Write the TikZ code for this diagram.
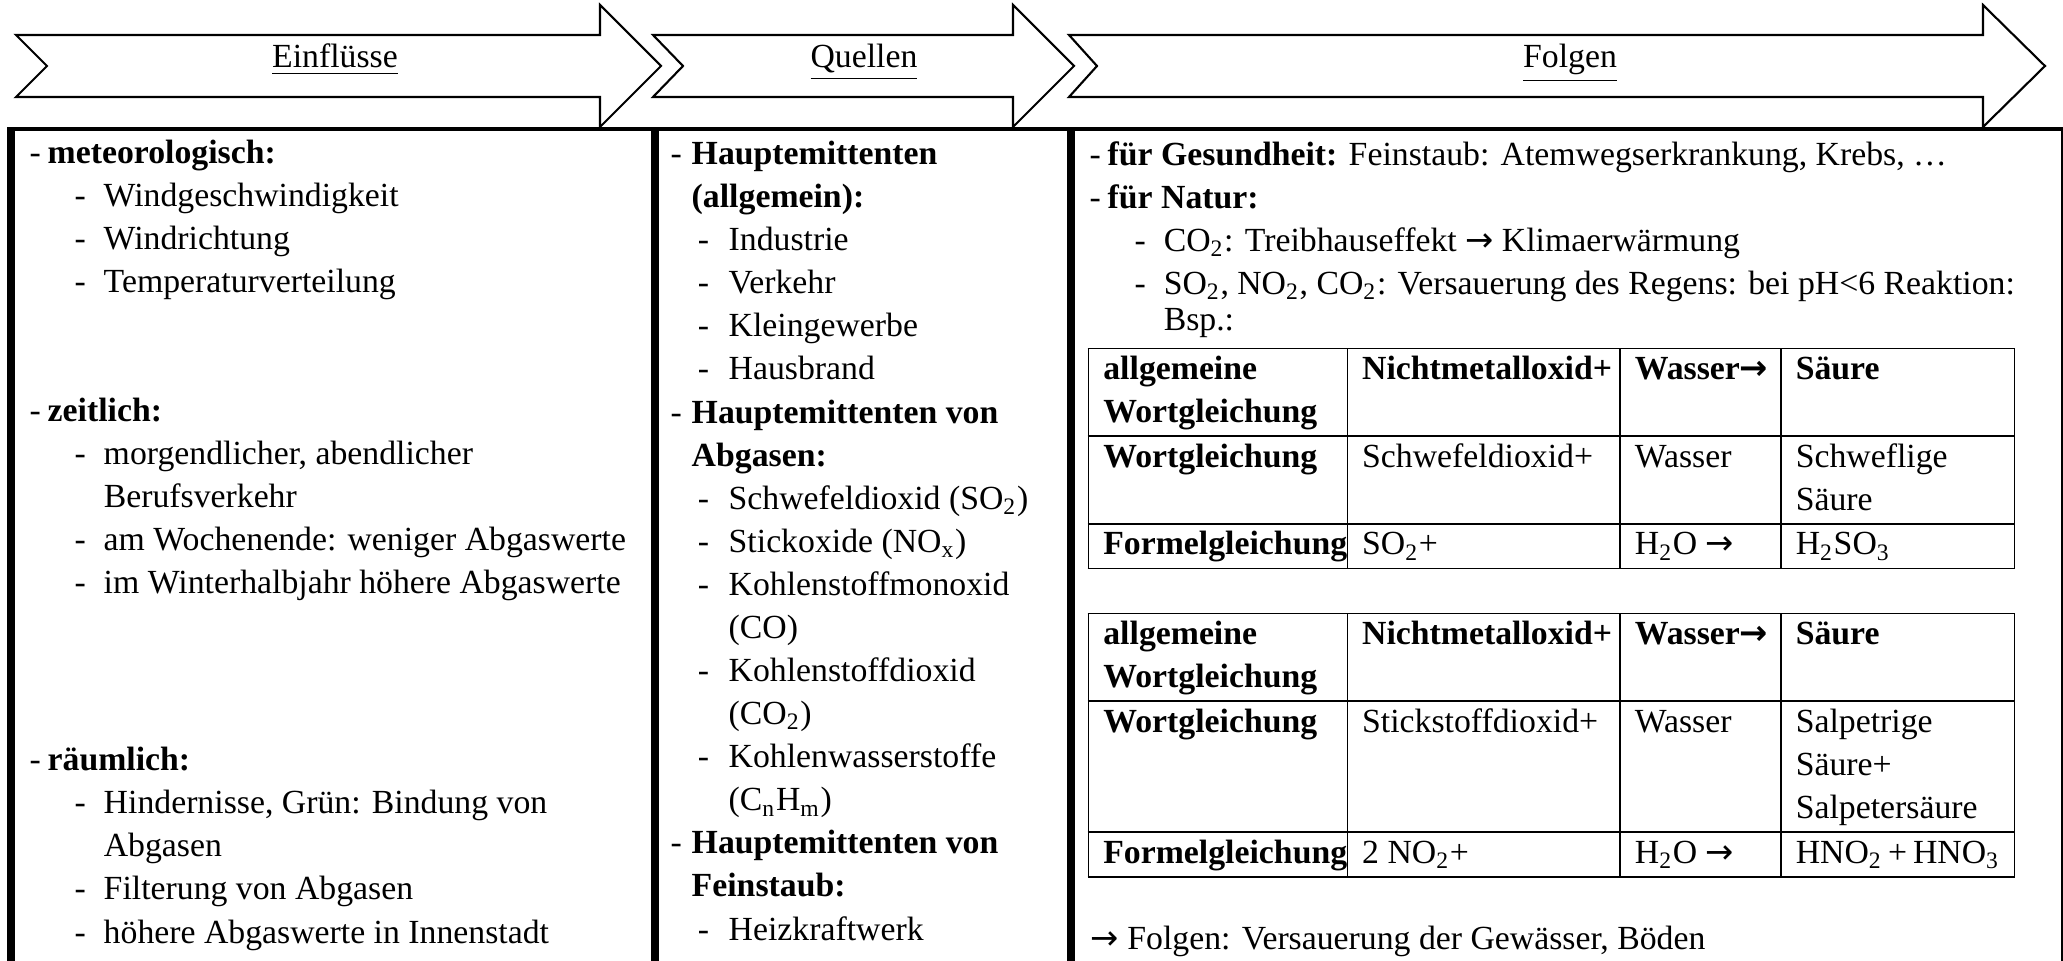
\documentclass[tikz,border=0pt]{standalone}
\usepackage{fontspec}
\setmainfont{Liberation Serif}
\newfontfamily\pfeilfont{DejaVu Sans}
\usepackage{array}

\newcommand{\pfeil}{{\pfeilfont →}}
% Einfluesse / Folgen
\newcommand{\hpkt}[1]{\makebox[5.12pt][l]{-}\textbf{#1}}
\newcommand{\upkt}[1]{\hspace*{12.8pt}\makebox[8.26pt][l]{-}#1}
\newcommand{\uweiter}[1]{\hspace*{21.06pt}#1}
% Quellen
\newcommand{\qhpkt}[1]{\makebox[5.98pt][l]{-}\textbf{#1}}
\newcommand{\qhweiter}[1]{\hspace*{5.98pt}\textbf{#1}}
\newcommand{\qupkt}[1]{\hspace*{7.7pt}\makebox[8.8pt][l]{-}#1}
\newcommand{\quweiter}[1]{\hspace*{16.5pt}#1}
\newcommand{\kopfzeile}{\textbf{allgemeine}\newline\textbf{Wortgleichung} & \textbf{Nichtmetalloxid+} & \textbf{Wasser\pfeil} & \textbf{Säure}\\\hline}

\begin{document}
\begin{tikzpicture}[x=0.01cm, y=-0.01cm,
    every node/.style={font=\fontsize{9.6pt}{12.25pt}\selectfont, inner sep=0pt},
    pfeilform/.style={draw, line width=0.6pt, fill=white, line join=miter},
    kopf/.style={anchor=base},
    spalte/.style={align=left, anchor=base west},
    rahmen/.style={line width=2.3pt},
    tabelle/.style={anchor=north west}
  ]
  \useasboundingbox (0,0) rectangle (2063,961);

  % Pfeile oben
  \foreach \xl/\xn/\xh/\xt in {16/47/600/661, 653/683/1013/1074, 1069/1097/1983/2045}
    \draw[pfeilform] (\xl,35) -- (\xh,35) -- (\xh,5) -- (\xt,66) -- (\xh,127)
      -- (\xh,97) -- (\xl,97) -- (\xn,66) -- cycle;

  \node[kopf] (einfluss) at (335,68) {\underline{Einflüsse}};
  \node[kopf] (quellen) at (864,68) {\underline{Quellen}};
  \node[kopf] (folgen) at (1570,68) {\underline{Folgen}};

  % Rahmen
  \draw[line width=1.15pt] (7,129) -- (2063,129);
  \foreach \x in {11,655,1071}
    \draw[rahmen] (\x,129) -- (\x,961);
  \draw[line width=0.6pt] (2062,129) -- (2062,961);

  % Spalten (base = Grundlinie der letzten Zeile)
  \node[spalte] (einfluesse) at (29,943) {%
    \hpkt{meteorologisch:}\\
    \upkt{Windgeschwindigkeit}\\
    \upkt{Windrichtung}\\
    \upkt{Temperaturverteilung}\\[24.5pt]
    \hpkt{zeitlich:}\\
    \upkt{morgendlicher, abendlicher}\\
    \uweiter{Berufsverkehr}\\
    \upkt{am Wochenende: weniger Abgaswerte}\\
    \upkt{im Winterhalbjahr höhere Abgaswerte}\\[38pt]
    \hpkt{räumlich:}\\
    \upkt{Hindernisse, Grün: Bindung von}\\
    \uweiter{Abgasen}\\
    \upkt{Filterung von Abgasen}\\
    \upkt{höhere Abgaswerte in Innenstadt}};

  \node[spalte] (quellentext) at (670,940) {%
    \qhpkt{Hauptemittenten}\\
    \qhweiter{(allgemein):}\\
    \qupkt{Industrie}\\
    \qupkt{Verkehr}\\
    \qupkt{Kleingewerbe}\\
    \qupkt{Hausbrand}\\
    \qhpkt{Hauptemittenten von}\\
    \qhweiter{Abgasen:}\\
    \qupkt{Schwefeldioxid (SO\textsubscript{2})}\\
    \qupkt{Stickoxide (NO\textsubscript{x})}\\
    \qupkt{Kohlenstoffmonoxid}\\
    \quweiter{(CO)}\\
    \qupkt{Kohlenstoffdioxid}\\
    \quweiter{(CO\textsubscript{2})}\\
    \qupkt{Kohlenwasserstoffe}\\
    \quweiter{(C\textsubscript{n}H\textsubscript{m})}\\
    \qhpkt{Hauptemittenten von}\\
    \qhweiter{Feinstaub:}\\
    \qupkt{Heizkraftwerk}};

  \node[spalte] (folgentext) at (1089,331) {%
    \hpkt{für Gesundheit:} Feinstaub: Atemwegserkrankung, Krebs, …\\
    \hpkt{für Natur:}\\
    \upkt{CO\textsubscript{2}: Treibhauseffekt \pfeil{} Klimaerwärmung}\\
    \upkt{SO\textsubscript{2}, NO\textsubscript{2}, CO\textsubscript{2}: Versauerung des Regens: bei pH<6 Reaktion:}\\[-1.9pt]
    \uweiter{Bsp.:}};

  \node[tabelle] (tabEins) at (1087,347) {%
    \setlength{\tabcolsep}{4pt}\setlength{\arrayrulewidth}{0.45pt}%
    \begin{tabular}{|p{65.15pt}|p{69.1pt}|p{37.3pt}|p{58pt}|}
      \hline
      \kopfzeile
      \textbf{Wortgleichung} & Schwefeldioxid+ & Wasser & Schweflige\newline Säure\\\hline
      \textbf{Formelgleichung} & SO\textsubscript{2}+ & H\textsubscript{2}O \pfeil & H\textsubscript{2}SO\textsubscript{3}\\\hline
    \end{tabular}};

  \node[tabelle] (tabZwei) at (1087,612) {%
    \setlength{\tabcolsep}{4pt}\setlength{\arrayrulewidth}{0.45pt}%
    \begin{tabular}{|p{65.15pt}|p{69.1pt}|p{37.3pt}|p{58pt}|}
      \hline
      \kopfzeile
      \textbf{Wortgleichung} & Stickstoffdioxid+ & Wasser & Salpetrige\newline Säure+\newline Salpetersäure\\\hline
      \textbf{Formelgleichung} & 2 NO\textsubscript{2}+ & H\textsubscript{2}O \pfeil & HNO\textsubscript{2} + HNO\textsubscript{3}\\\hline
    \end{tabular}};

  \node[anchor=base west] (fazit) at (1090,949) {\pfeil{} Folgen: Versauerung der Gewässer, Böden};
\end{tikzpicture}
\end{document}
